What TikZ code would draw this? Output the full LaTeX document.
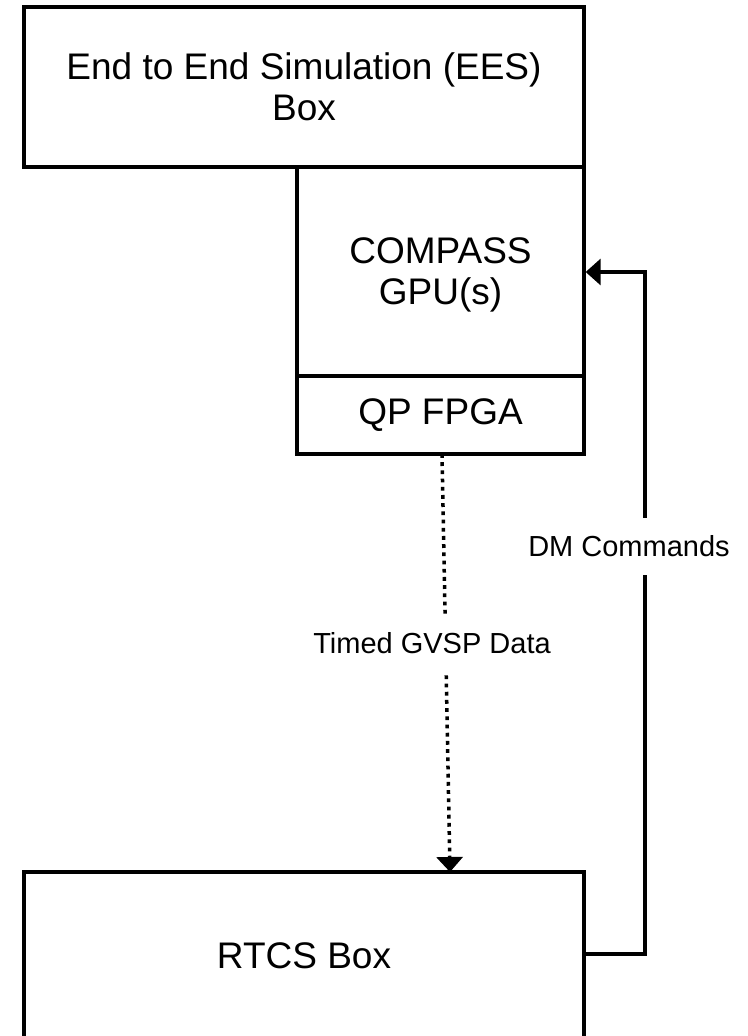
\documentclass[tikz,border=0pt]{standalone}
\usepackage{fontspec}
\setmainfont{Liberation Sans}
\usetikzlibrary{arrows.meta}
\begin{document}
\begin{tikzpicture}[x=1pt,y=1pt,
  box/.style={draw, line width=3.3pt, rectangle, inner sep=0pt, align=center,
    font=\fontsize{37}{41}\selectfont},
  conn/.style={line width=3.1pt, -{Triangle[length=15pt,width=26pt]}},
  dotconn/.style={conn, line width=3.5pt, dash pattern=on 3.8pt off 4.4pt},
  lbl/.style={fill=white, inner xsep=2pt, inner ysep=0pt, minimum height=57pt,
    font=\fontsize{29}{34}\selectfont}]
\clip (0,0) rectangle (747,-1036);
\node[box, minimum width=560pt, minimum height=160pt] (ees) at (304,-87)
  {End to End Simulation (EES)\\Box};
\node[box, minimum width=287pt, minimum height=209pt] (compass) at (440.5,-271.5)
  {COMPASS\\\smash{GPU(s)}};
\node[box, minimum width=287pt, minimum height=78pt] (qp) at (440.5,-415)
  {QP FPGA};
\node[box, minimum width=560pt, minimum height=168pt] (rtcs) at (304,-956)
  {RTCS Box};
\coordinate (gvspstart) at (442,-454);
\coordinate (gvspend) at (450,-872);
\coordinate (dmcorner1) at (645,-954);
\coordinate (dmcorner2) at (645,-272);
\draw[dotconn] (gvspstart) -- node[lbl, pos=0.4533, xshift=-13.6pt] (gvsplbl) {Timed GVSP Data} (gvspend);
\draw[conn] (rtcs.east |- dmcorner1) -- (dmcorner1)
  -- node[lbl, pos=0.5975, xshift=-16pt] (dmlbl) {DM Commands} (dmcorner2)
  -- (compass.east |- dmcorner2);
\end{tikzpicture}
\end{document}
